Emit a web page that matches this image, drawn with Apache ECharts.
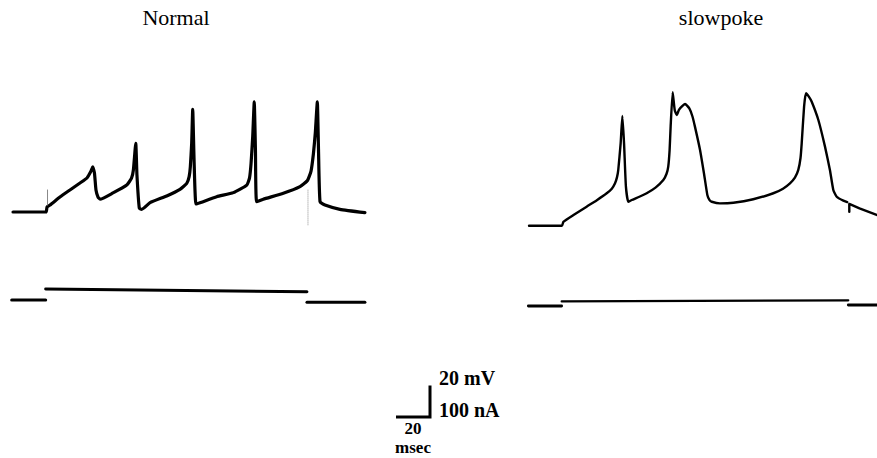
<!DOCTYPE html>
<html>
<head>
<meta charset="utf-8">
<script src="https://cdn.jsdelivr.net/npm/echarts@6/dist/echarts.min.js"></script>
<style>
html,body{margin:0;padding:0;background:#fff;}
#chart{width:877px;height:458px;}
</style>
</head>
<body>
<div id="chart"></div>
<script>
// ---------------- DATA (time in ms from current onset, voltage in mV from rest, current in nA from holding) ----------------
const panelTitles = ['Normal', 'slowpoke'];

// Normal: membrane potential
const normalVoltage = [
  [-19.4,0],[0,0],[0.6,3.2],[2.4,4.4],[8.2,9.5],[14.1,14],[20,18.4],[24.1,21.6],[26.5,26],[27.5,28.6],
  [28.5,24.8],[29.4,14],[30.6,9.5],[31.8,8.1],[39.4,12.1],[47.5,17.1],[50.3,21.5],[51.4,26.7],[52.8,43.6],[53.5,23.5],
  [54.9,2.3],[56.3,1.7],[61.2,5.9],[71,10.2],[78.8,14.4],[82.8,18.2],[84.2,22.5],[84.9,28.7],[85.7,43.8],[86.3,65.2],
  [87.1,33],[88.2,5.1],[90.6,5.9],[100.4,9.7],[110.2,12.3],[118.1,17.1],[119.7,21.5],[120.6,30.5],[121.6,48],[122.5,70],
  [123.2,39.4],[123.9,6.5],[127.8,8.1],[139.6,11.9],[149.4,16.1],[153.8,20],[155.9,26],[157.3,37],[158.4,50],[159.6,70],
  [160.3,39.4],[161.2,6.5],[164.1,4.4],[172.9,1.7],[187.6,-0.4]
];
// Normal: stimulus artifacts (faint)
const normalOnsetArtifact = [[0.9,14],[0.9,4.4]];
const normalOffsetArtifact = [[154.1,14],[154.1,-8.3]];
// Normal: injected current
const normalCurrentPre = [[-20.2,0],[-0.2,0]];
const normalCurrentStep = [[-0.2,34.9],[153.5,26.3]];
const normalCurrentPost = [[153.5,-7.3],[187.6,-7.3]];

// slowpoke: membrane potential
const slowpokeVoltage = [
  [-19.4,0],[0,0],[0.8,2.5],[7,7],[14.5,12.1],[20.5,16.2],[26.3,20.6],[29.3,23.5],[31.2,26.9],[32.4,31],[33.1,35.4],[34.5,52.3],[35.5,69.7],
  [36.5,52.3],[37.6,24.8],[39,15.2],[41,16.3],[45.5,18.4],[49.8,20.6],[55,24.2],[59.6,29],[61.5,33],[62.5,37.5],[63.3,48],[63.9,62.9],[65.1,84.7],
  [66.3,73.5],[67.5,70.3],[68.8,73.5],[70.4,75.6],[72.4,77.3],[74.9,74.5],[76.7,69.5],[78.2,62.9],[81.2,48.1],[83.5,33.3],
  [85.5,19.5],[86.8,16.2],[88.1,15.2],[92.9,14.2],[100.8,14.6],[112.5,16.8],[124.3,20.6],[130,23.5],[134.1,26.9],[137,30.5],[139,35.4],
  [140.3,43],[141,52.3],[142.4,75.6],[143.5,84.1],[145.2,82],[146.9,78.7],[150.8,67.1],[154.7,50.2],[157.6,35.4],[159.6,22.7],
  [161.6,18.4],[165.5,15.9],[167.8,15]
];
const slowpokeVoltageAfter = [[169,8.9],[169,13.8],[175,11],[185.1,6.8]];
// slowpoke: injected current
const slowpokeCurrentPre = [[-19.8,0],[-0.2,0]];
const slowpokeCurrentStep = [[-0.2,14.5],[168.4,18]];
const slowpokeCurrentPost = [[168.4,3.2],[185.3,3.2]];

// scale bar
const scaleBarMs = 20;
const scaleBarMv = 20;
const scaleBarNa = 100;
const scaleLabels = ['20 mV', '100 nA', '20', 'msec'];

// ---------------- LAYOUT ----------------
const W = 877, H = 458;
const PX_MS = 1.7, PX_MV = 1.575, PX_NA = 1.575 * scaleBarMv / scaleBarNa;

// each panel: pixel position of (t=0) and of zero level
const frames = [
  {x0: 46,  y0: 212,   pxY: PX_MV}, // Normal voltage
  {x0: 46,  y0: 300,   pxY: PX_NA}, // Normal current
  {x0: 562, y0: 225.7, pxY: PX_MV}, // slowpoke voltage
  {x0: 562, y0: 306,   pxY: PX_NA}, // slowpoke current
  {x0: 396, y0: 417,   pxY: PX_MV}  // scale bar
];

const grids = [], xAxes = [], yAxes = [];
frames.forEach((f, i) => {
  grids.push({left: 0, top: 0, width: W, height: H, containLabel: false});
  xAxes.push({type: 'value', gridIndex: i, show: false,
    min: -f.x0 / PX_MS, max: (W - f.x0) / PX_MS});
  yAxes.push({type: 'value', gridIndex: i, show: false,
    min: (f.y0 - H) / f.pxY, max: f.y0 / f.pxY});
});

function line(data, idx, width, color, type, smooth) {
  return {
    type: 'line', xAxisIndex: idx, yAxisIndex: idx, data: data,
    showSymbol: false, symbol: 'none', animation: false, silent: true, clip: false,
    smooth: smooth || false,
    lineStyle: {color: color || '#000', width: width, type: type || 'solid', cap: 'round', join: 'round'}
  };
}

const series = [
  line(normalVoltage, 0, 3.2, '#000', 'solid', 0.15),
  line(normalOnsetArtifact, 0, 1, '#888'),
  line(normalOffsetArtifact, 0, 1, '#bbb', 'dotted'),
  line(normalCurrentPre, 1, 3),
  line(normalCurrentStep, 1, 3),
  line(normalCurrentPost, 1, 3),
  line(slowpokeVoltage, 2, 2.4, '#000', 'solid', 0.15),
  line(slowpokeVoltageAfter, 2, 2.4),
  line(slowpokeCurrentPre, 3, 2.8),
  line(slowpokeCurrentStep, 3, 2.2),
  line(slowpokeCurrentPost, 3, 2.8),
  line([[0,0],[scaleBarMs,0],[scaleBarMs,scaleBarMv]], 4, 3)
];
series[series.length-1].lineStyle.cap = 'butt';
series[series.length-1].lineStyle.join = 'miter';

const serif = '"Liberation Serif", "DejaVu Serif", serif';
const graphic = [
  {type: 'text', x: 176, y: 17.5, style: {text: panelTitles[0], fontFamily: serif, fontSize: 22, fill: '#000', textAlign: 'center', textVerticalAlign: 'middle'}},
  {type: 'text', x: 721, y: 17.5, style: {text: panelTitles[1], fontFamily: serif, fontSize: 22, fill: '#000', textAlign: 'center', textVerticalAlign: 'middle'}},
  {type: 'text', x: 439, y: 378, style: {text: scaleLabels[0], fontFamily: serif, fontSize: 20, fontWeight: 'bold', fill: '#000', textAlign: 'left', textVerticalAlign: 'middle'}},
  {type: 'text', x: 439, y: 410, style: {text: scaleLabels[1], fontFamily: serif, fontSize: 20, fontWeight: 'bold', fill: '#000', textAlign: 'left', textVerticalAlign: 'middle'}},
  {type: 'text', x: 413, y: 428, style: {text: scaleLabels[2], fontFamily: serif, fontSize: 17, lineHeight: 16, fontWeight: 'bold', fill: '#000', textAlign: 'center', textVerticalAlign: 'middle'}},
  {type: 'text', x: 413, y: 447.5, style: {text: scaleLabels[3], fontFamily: serif, fontSize: 17, lineHeight: 16, fontWeight: 'bold', fill: '#000', textAlign: 'center', textVerticalAlign: 'middle'}}
];

const chart = echarts.init(document.getElementById('chart'), null, {renderer: 'svg', width: W, height: H});
chart.setOption({
  backgroundColor: '#fff',
  animation: false,
  grid: grids,
  xAxis: xAxes,
  yAxis: yAxes,
  series: series,
  graphic: graphic
});
</script>
</body>
</html>
